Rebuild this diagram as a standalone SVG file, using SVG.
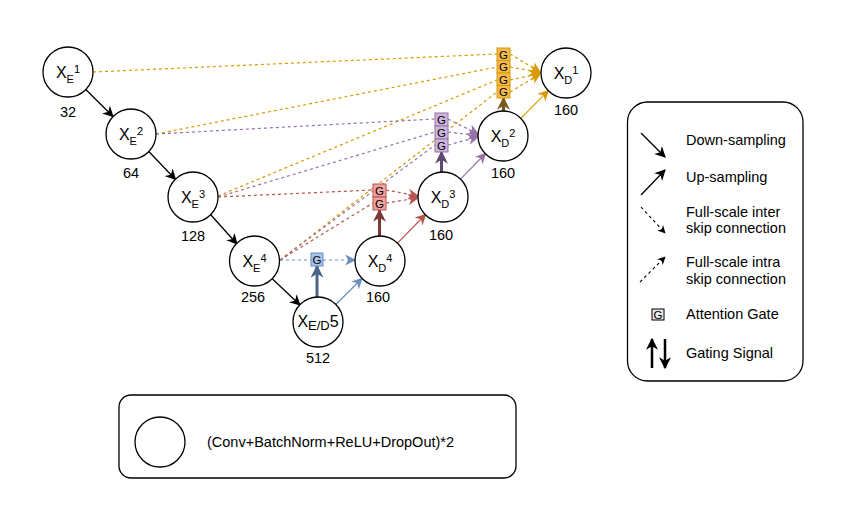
<svg xmlns="http://www.w3.org/2000/svg" width="858" height="516" viewBox="0 0 858 516">
<style>
.nd{fill:#fff;stroke:#000;stroke-width:1.3}
.t{font-family:"Liberation Sans",Arial,sans-serif;fill:#000}
.lx{font-size:16px}
.sb{font-size:11px}
.num{font-size:14.5px}
.lg{font-size:14.5px}
.gt{font-family:"Liberation Sans",Arial,sans-serif;font-size:11.5px;fill:#000;text-anchor:middle}
.dn{stroke:#000;stroke-width:1.3;fill:none;marker-end:url(#aK)}
.ds{stroke-width:1.2;stroke-dasharray:3 3;fill:none}
.o{stroke:#d79b00}
.p{stroke:#9673a6}
.r{stroke:#b85450}
.b{stroke:#6c8ebf}
.go{fill:#f5b94f;stroke:#d79b00;stroke-width:1}
.gp{fill:#cdb6dc;stroke:#9673a6;stroke-width:1}
.gr{fill:#f0a29e;stroke:#b85450;stroke-width:1}
.gb{fill:#a9c4eb;stroke:#6c8ebf;stroke-width:1}
.gs{stroke-width:3;fill:none}
</style>
<defs>
<marker id="aK" viewBox="0 0 10 10" refX="9" refY="5" markerWidth="11" markerHeight="11" markerUnits="userSpaceOnUse" orient="auto"><path d="M0,0 L10,5 L0,10 L3,5 z" fill="#000"/></marker>
<marker id="aKs" viewBox="0 0 10 10" refX="9" refY="5" markerWidth="8" markerHeight="8" markerUnits="userSpaceOnUse" orient="auto"><path d="M0,0 L10,5 L0,10 L3,5 z" fill="#000"/></marker>
<marker id="aO" viewBox="0 0 10 10" refX="9" refY="5" markerWidth="11" markerHeight="11" markerUnits="userSpaceOnUse" orient="auto"><path d="M0,0 L10,5 L0,10 L3,5 z" fill="#d79b00"/></marker>
<marker id="aP" viewBox="0 0 10 10" refX="9" refY="5" markerWidth="11" markerHeight="11" markerUnits="userSpaceOnUse" orient="auto"><path d="M0,0 L10,5 L0,10 L3,5 z" fill="#9673a6"/></marker>
<marker id="aR" viewBox="0 0 10 10" refX="9" refY="5" markerWidth="11" markerHeight="11" markerUnits="userSpaceOnUse" orient="auto"><path d="M0,0 L10,5 L0,10 L3,5 z" fill="#b85450"/></marker>
<marker id="aB" viewBox="0 0 10 10" refX="9" refY="5" markerWidth="11" markerHeight="11" markerUnits="userSpaceOnUse" orient="auto"><path d="M0,0 L10,5 L0,10 L3,5 z" fill="#6c8ebf"/></marker>
<marker id="gB" viewBox="0 0 10 10" refX="9" refY="5" markerWidth="13" markerHeight="13" markerUnits="userSpaceOnUse" orient="auto"><path d="M0,0 L10,5 L0,10 L3,5 z" fill="#4a6488"/></marker>
<marker id="gR" viewBox="0 0 10 10" refX="9" refY="5" markerWidth="13" markerHeight="13" markerUnits="userSpaceOnUse" orient="auto"><path d="M0,0 L10,5 L0,10 L3,5 z" fill="#7a3a38"/></marker>
<marker id="gP" viewBox="0 0 10 10" refX="9" refY="5" markerWidth="13" markerHeight="13" markerUnits="userSpaceOnUse" orient="auto"><path d="M0,0 L10,5 L0,10 L3,5 z" fill="#5e4a70"/></marker>
<marker id="gO" viewBox="0 0 10 10" refX="9" refY="5" markerWidth="13" markerHeight="13" markerUnits="userSpaceOnUse" orient="auto"><path d="M0,0 L10,5 L0,10 L3,5 z" fill="#7a5a1c"/></marker>
<marker id="gK" viewBox="0 0 10 10" refX="9" refY="5" markerWidth="12" markerHeight="12" markerUnits="userSpaceOnUse" orient="auto"><path d="M0,0 L10,5 L0,10 L3,5 z" fill="#000"/></marker>
</defs>

<g id="connectors">
<line class="dn" x1="85.8" y1="89.5" x2="113" y2="116.5"/>
<line class="dn" x1="148.8" y1="151.5" x2="175.5" y2="179.5"/>
<line class="dn" x1="210.5" y1="214.5" x2="237" y2="244"/>
<line class="dn" x1="272.5" y1="279" x2="300" y2="305"/>
<line stroke="#6c8ebf" stroke-width="1.2" marker-end="url(#aB)" x1="335.8" y1="304.5" x2="362" y2="278.5"/>
<line stroke="#b85450" stroke-width="1.2" marker-end="url(#aR)" x1="397.5" y1="243.2" x2="425.5" y2="214.5"/>
<line stroke="#9673a6" stroke-width="1.2" marker-end="url(#aP)" x1="460.5" y1="179.2" x2="485.5" y2="153.5"/>
<line stroke="#d79b00" stroke-width="1.2" marker-end="url(#aO)" x1="520.7" y1="118.3" x2="548.3" y2="90.7"/>
<path class="ds o" d="M93,72 L497,54"/>
<path class="ds o" d="M156,134 L497,67"/>
<path class="ds o" d="M218,196 L497,80"/>
<path class="ds o" d="M280,260 L497,92"/>
<path class="ds o" marker-end="url(#aO)" d="M510,54 L540,72"/>
<path class="ds o" marker-end="url(#aO)" d="M510,67 L540,72.5"/>
<path class="ds o" marker-end="url(#aO)" d="M510,80 L540,73.5"/>
<path class="ds o" marker-end="url(#aO)" d="M510,92 L540,74"/>
<path class="ds p" d="M156,134 L435,119"/>
<path class="ds p" d="M218,197 L435,132"/>
<path class="ds p" d="M280,260 L435,145"/>
<path class="ds p" marker-end="url(#aP)" d="M448,119 L478,134"/>
<path class="ds p" marker-end="url(#aP)" d="M448,132 L478,135.5"/>
<path class="ds p" marker-end="url(#aP)" d="M448,145 L478,137"/>
<path class="ds r" d="M218,197 L373,190"/>
<path class="ds r" d="M280,260 L373,203"/>
<path class="ds r" marker-end="url(#aR)" d="M386,190 L418,196"/>
<path class="ds r" marker-end="url(#aR)" d="M386,203 L418,198"/>
<path class="ds b" d="M280,260 L311,260"/>
<path class="ds b" marker-end="url(#aB)" d="M323,260 L355,260"/>
<line class="gs" stroke="#4a6488" marker-end="url(#gB)" x1="317" y1="297" x2="317" y2="266"/>
<line class="gs" stroke="#7a3a38" marker-end="url(#gR)" x1="379.5" y1="236" x2="379.5" y2="210"/>
<line class="gs" stroke="#5e4a70" marker-end="url(#gP)" x1="441.5" y1="172" x2="441.5" y2="152"/>
<line class="gs" stroke="#7a5a1c" marker-end="url(#gO)" x1="503.5" y1="111" x2="503.5" y2="98"/>
</g>

<g id="gate-XD1">
<rect class="go" x="497" y="48" width="13" height="12.5"/>
<rect class="go" x="497" y="60.5" width="13" height="12.5"/>
<rect class="go" x="497" y="73" width="13" height="12.5"/>
<rect class="go" x="497" y="85.5" width="13" height="12.5"/>
<text class="gt" x="503.5" y="58.5">G</text>
<text class="gt" x="503.5" y="71">G</text>
<text class="gt" x="503.5" y="83.5">G</text>
<text class="gt" x="503.5" y="96">G</text>
</g>
<g id="gate-XD2">
<rect class="gp" x="435" y="113" width="13" height="13"/>
<rect class="gp" x="435" y="126" width="13" height="13"/>
<rect class="gp" x="435" y="139" width="13" height="13"/>
<text class="gt" x="441.5" y="123.8">G</text>
<text class="gt" x="441.5" y="136.8">G</text>
<text class="gt" x="441.5" y="149.8">G</text>
</g>
<g id="gate-XD3">
<rect class="gr" x="373" y="184" width="13" height="13"/>
<rect class="gr" x="373" y="197" width="13" height="13"/>
<text class="gt" x="379.5" y="194.8">G</text>
<text class="gt" x="379.5" y="207.8">G</text>
</g>
<g id="gate-XD4">
<rect class="gb" x="311" y="253" width="12" height="13"/>
<text class="gt" x="317" y="263.8">G</text>
</g>

<g id="XE1">
<circle class="nd" cx="68" cy="72" r="25"/>
<text class="t lx" x="68" y="78" text-anchor="middle">X<tspan class="sb" dy="5">E</tspan><tspan class="sb" dy="-10">1</tspan></text>
<text class="t num" x="68" y="117" text-anchor="middle">32</text>
</g>
<g id="XE2">
<circle class="nd" cx="131" cy="134" r="25"/>
<text class="t lx" x="131" y="140" text-anchor="middle">X<tspan class="sb" dy="5">E</tspan><tspan class="sb" dy="-10">2</tspan></text>
<text class="t num" x="131" y="178" text-anchor="middle">64</text>
</g>
<g id="XE3">
<circle class="nd" cx="193" cy="197" r="25"/>
<text class="t lx" x="193" y="203" text-anchor="middle">X<tspan class="sb" dy="5">E</tspan><tspan class="sb" dy="-10">3</tspan></text>
<text class="t num" x="193" y="241" text-anchor="middle">128</text>
</g>
<g id="XE4">
<circle class="nd" cx="254.5" cy="261" r="25"/>
<text class="t lx" x="254.5" y="267" text-anchor="middle">X<tspan class="sb" dy="5">E</tspan><tspan class="sb" dy="-10">4</tspan></text>
<text class="t num" x="253" y="302" text-anchor="middle">256</text>
</g>
<g id="XED5">
<circle class="nd" cx="318" cy="322" r="25"/>
<text class="t lx" x="318" y="327" text-anchor="middle">X<tspan font-size="13" dy="3">E/D</tspan><tspan dy="-3">5</tspan></text>
<text class="t num" x="318" y="363" text-anchor="middle">512</text>
</g>
<g id="XD4">
<circle class="nd" cx="380" cy="261" r="25"/>
<text class="t lx" x="380" y="267" text-anchor="middle">X<tspan class="sb" dy="5">D</tspan><tspan class="sb" dy="-10">4</tspan></text>
<text class="t num" x="378" y="302" text-anchor="middle">160</text>
</g>
<g id="XD3">
<circle class="nd" cx="443" cy="197" r="25"/>
<text class="t lx" x="443" y="203" text-anchor="middle">X<tspan class="sb" dy="5">D</tspan><tspan class="sb" dy="-10">3</tspan></text>
<text class="t num" x="441" y="240" text-anchor="middle">160</text>
</g>
<g id="XD2">
<circle class="nd" cx="503" cy="136" r="25"/>
<text class="t lx" x="503" y="142" text-anchor="middle">X<tspan class="sb" dy="5">D</tspan><tspan class="sb" dy="-10">2</tspan></text>
<text class="t num" x="503" y="178" text-anchor="middle">160</text>
</g>
<g id="XD1">
<circle class="nd" cx="566" cy="73" r="25"/>
<text class="t lx" x="566" y="79" text-anchor="middle">X<tspan class="sb" dy="5">D</tspan><tspan class="sb" dy="-10">1</tspan></text>
<text class="t num" x="566" y="115" text-anchor="middle">160</text>
</g>

<g id="legend">
<rect x="627.5" y="102" width="175.5" height="279" rx="20" ry="20" fill="#fff" stroke="#000" stroke-width="1.3"/>
<line class="dn" x1="641" y1="133" x2="665" y2="157"/>
<text class="t lg" x="686" y="145">Down-sampling</text>
<line class="dn" x1="641" y1="195" x2="665" y2="170"/>
<text class="t lg" x="686" y="182">Up-sampling</text>
<line stroke="#000" stroke-width="1.1" stroke-dasharray="3 3" marker-end="url(#aKs)" x1="641" y1="207" x2="665" y2="233"/>
<text class="t lg" x="686" y="217">Full-scale inter</text>
<text class="t lg" x="686" y="233">skip connection</text>
<line stroke="#000" stroke-width="1.1" stroke-dasharray="3 3" marker-end="url(#aKs)" x1="640" y1="282" x2="665" y2="257"/>
<text class="t lg" x="686" y="267">Full-scale intra</text>
<text class="t lg" x="686" y="284">skip connection</text>
<rect x="652" y="309" width="12" height="11" fill="#e6e6e6" stroke="#000" stroke-width="1"/>
<text class="gt" x="658" y="318.8">G</text>
<text class="t lg" x="686" y="319">Attention Gate</text>
<line stroke="#000" stroke-width="2.5" marker-end="url(#gK)" x1="652" y1="368" x2="652" y2="339"/>
<line stroke="#000" stroke-width="2.5" marker-end="url(#gK)" x1="665" y1="339" x2="665" y2="368"/>
<text class="t lg" x="686" y="358">Gating Signal</text>
</g>

<g id="block-legend">
<rect x="119" y="395" width="397" height="83" rx="12" ry="12" fill="#fff" stroke="#000" stroke-width="1.3"/>
<circle class="nd" cx="160" cy="442" r="25"/>
<text class="t lg" x="207" y="447">(Conv+BatchNorm+ReLU+DropOut)*2</text>
</g>
</svg>
